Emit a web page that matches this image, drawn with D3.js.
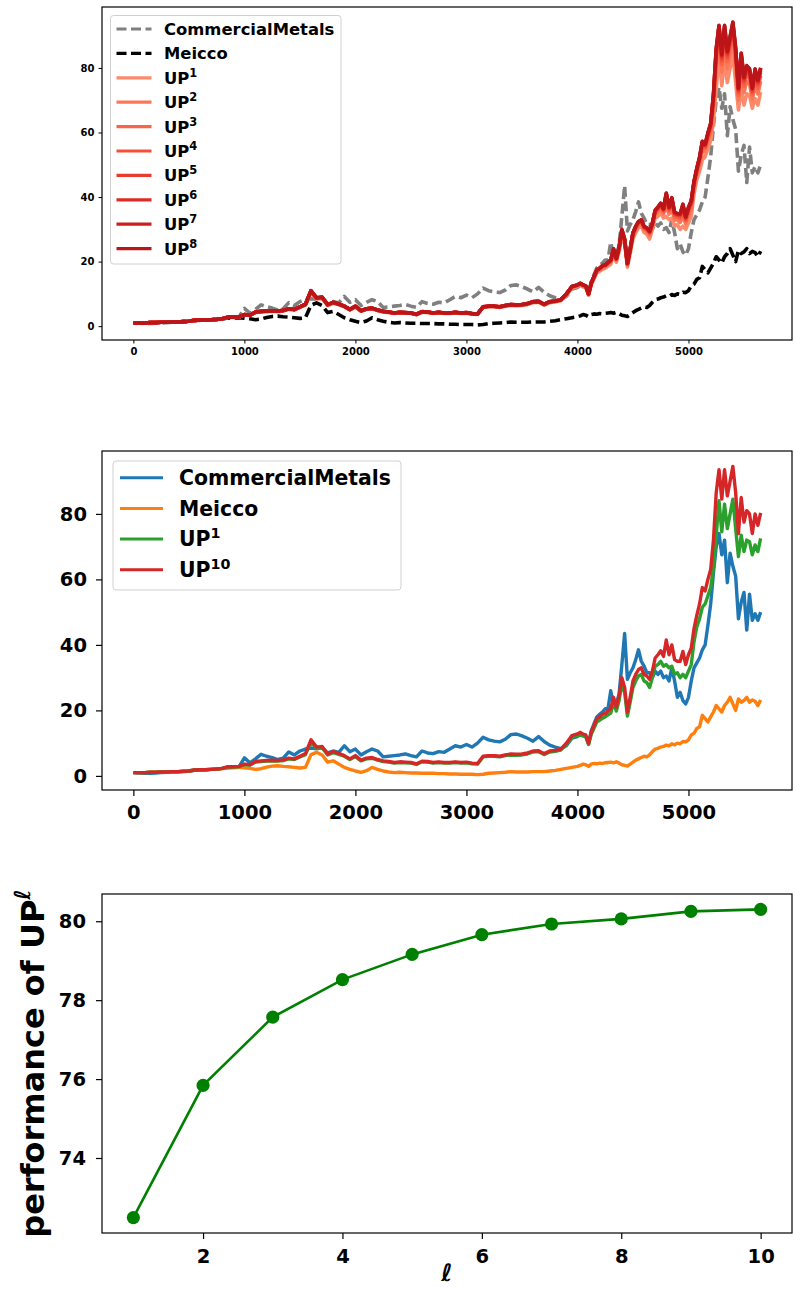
<!DOCTYPE html>
<html><head><meta charset="utf-8">
<script src="https://cdn.jsdelivr.net/npm/d3@7"></script>
<style>
body{margin:0;background:#fff}
svg text{font-family:"DejaVu Sans",sans-serif;font-weight:bold}
</style>
</head><body>
<svg id="chart" width="795" height="1289"></svg>
<script>
// ---------------- data ----------------
// trading-day index: every 50 days up to 4000, then every 25 days
const days = d3.range(0, 4000, 50).concat(d3.range(4000, 5651, 25));

const commercialMetals = [
1.0,0.9,0.8,0.8,0.9,1.0,1.1,1.2,1.2,1.3,
1.4,1.7,1.8,1.9,2.0,2.1,2.3,2.5,2.6,2.7,
5.5,4.0,5.2,6.6,6.0,5.6,5.0,5.4,7.3,6.4,
7.6,8.2,8.5,8.3,8.6,7.0,7.6,7.2,9.2,7.4,
8.2,6.4,7.4,8.2,7.6,5.8,6.0,6.2,6.4,6.7,
6.2,5.8,7.6,7.0,6.8,7.4,7.2,8.2,9.2,8.8,
9.6,8.8,10.0,11.8,11.0,10.6,10.4,11.2,12.6,12.8,
12.2,11.5,10.6,12.0,10.5,9.4,8.8,8.3,9.2,11.5,
12.0,12.8,12.3,12.0,9.8,13.8,16.0,18.0,18.8,19.5,
20.5,20.5,26.0,21.5,22.0,25.0,34.0,43.5,29.5,31.5,
33.0,35.5,38.5,35.0,33.5,31.5,31.5,30.0,32.0,31.0,
32.0,30.0,30.5,29.0,33.0,29.0,24.0,25.5,23.0,22.0,
24.0,29.0,33.0,34.5,36.0,38.5,40.0,46.0,52.5,62.0,
70.0,74.0,67.5,72.0,59.0,68.0,64.0,61.0,48.0,53.0,
56.0,44.5,55.5,47.5,49.5,47.5,50.0];

const meicco = [
1.0,1.0,1.0,1.1,1.1,1.2,1.2,1.3,1.3,1.4,
1.5,1.8,1.9,1.9,2.0,2.1,2.2,2.5,2.5,2.6,
2.5,2.3,2.0,2.2,2.7,3.0,3.1,2.9,2.8,2.6,
2.4,2.6,6.5,7.2,6.4,4.2,4.6,3.6,2.6,2.0,
1.5,1.1,1.6,2.6,2.0,1.5,1.2,1.0,1.1,1.0,
0.9,0.9,0.8,0.8,0.8,0.7,0.7,0.6,0.6,0.5,
0.5,0.5,0.4,0.5,0.8,0.9,1.0,1.1,1.3,1.2,
1.2,1.2,1.3,1.3,1.3,1.5,1.7,2.0,2.3,2.6,
2.9,3.2,3.6,3.4,2.9,3.6,3.8,3.7,3.9,3.8,
4.0,4.1,4.2,4.0,4.3,3.9,3.4,3.2,3.0,3.6,
4.2,4.8,5.2,5.6,6.0,5.8,6.4,7.4,8.2,8.4,
8.8,9.0,9.4,9.2,9.8,9.5,10.0,9.8,10.5,10.4,
11.0,12.5,13.0,14.5,15.0,18.5,17.5,16.5,18.0,19.5,
21.5,20.5,19.5,21.5,22.5,24.0,22.0,20.0,23.5,22.5,
23.0,24.0,22.5,23.2,22.8,21.5,23.2];

const up1 = [
1.0,1.0,1.0,1.1,1.1,1.2,1.2,1.3,1.3,1.4,
1.5,1.8,1.9,1.9,2.0,2.1,2.3,2.7,2.7,2.8,
3.5,3.3,4.2,4.4,4.5,4.6,4.5,4.7,5.2,5.0,
5.8,6.5,10.4,8.4,8.6,6.4,7.1,6.6,6.0,5.0,
5.9,4.6,5.2,5.4,4.8,4.4,4.2,3.9,4.1,4.0,
3.9,3.5,4.3,4.2,3.9,4.1,3.9,3.9,4.1,3.9,
4.0,3.7,3.6,5.8,6.0,6.0,5.8,6.2,6.4,6.3,
6.4,6.7,7.3,7.4,6.5,7.3,7.5,7.9,9.6,11.8,
12.3,12.6,12.2,12.0,9.6,12.8,14.6,16.5,17.0,17.6,
18.0,18.6,19.2,22.5,19.8,23.0,28.0,25.5,18.3,22.5,
27.0,29.0,30.5,31.0,29.0,28.5,27.0,30.0,33.5,34.0,
35.0,33.5,34.0,33.0,33.5,31.0,31.5,30.0,31.0,30.0,
32.0,34.0,41.0,45.5,48.0,51.5,52.5,55.0,57.5,63.5,
73.5,84.0,74.5,83.0,75.5,80.0,84.5,75.5,67.0,73.5,
68.5,72.0,71.5,67.5,70.5,68.5,72.5];

const up10 = [
1.0,1.0,1.0,1.1,1.1,1.2,1.2,1.3,1.3,1.4,
1.5,1.8,1.9,1.9,2.0,2.1,2.3,2.8,2.8,2.9,
3.6,3.4,4.4,4.6,4.7,4.8,4.7,4.9,5.4,5.2,
6.0,6.8,11.0,8.8,9.0,6.7,7.4,6.9,6.2,5.2,
6.2,4.8,5.4,5.6,5.0,4.6,4.4,4.1,4.3,4.2,
4.1,3.7,4.5,4.4,4.1,4.3,4.1,4.1,4.3,4.1,
4.2,3.9,3.8,6.0,6.2,6.2,6.0,6.4,6.7,6.6,
6.7,7.0,7.6,7.7,6.8,7.6,7.8,8.2,10.0,12.3,
12.8,13.3,12.8,12.5,10.0,13.5,15.5,17.5,18.0,18.8,
19.0,19.8,20.5,24.0,21.0,24.5,30.0,27.0,19.5,24.0,
29.0,31.0,32.5,33.0,31.0,30.5,29.5,32.0,36.0,37.0,
38.2,36.5,41.5,37.0,40.0,35.5,35.0,35.0,38.0,34.0,
37.0,39.0,45.0,49.0,52.5,57.5,56.5,60.0,63.0,72.0,
86.5,93.5,84.5,93.5,85.5,90.0,94.5,86.5,74.0,85.0,
77.5,81.0,80.0,74.0,80.0,76.5,80.3];

// final performance of UP^l for l = 1..10
const ellValues = [1,2,3,4,5,6,7,8,9,10];
const upPerformance = [72.49,75.84,77.57,78.52,79.16,79.66,79.93,80.06,80.25,80.30];

// levels shown in the top panel
const topLevels = [1,2,3,4,5,6,7,8];
const xTicksSeries = [0,1000,2000,3000,4000,5000];
const yTicksSeries = [0,20,40,60,80];
const xTicksEll = [2,4,6,8,10];
const yTicksEll = [74,76,78,80];

// top-panel UP^l curves: positioned between UP^1 and UP^10 by their final performance
const wOf = l => (upPerformance[l-1]-upPerformance[0])/(upPerformance[9]-upPerformance[0]);
const topSeries = topLevels.map(l => up1.map((v,i) => v + wOf(l)*(up10[i]-v)));

// ---------------- helpers ----------------
const svg = d3.select("#chart");
const pad = ([a,b]) => [a-0.05*(b-a), b+0.05*(b-a)];

function axes(box, xd, yd, o){
  const x = d3.scaleLinear().domain(xd).range([box.l, box.r]);
  const y = d3.scaleLinear().domain(yd).range([box.b, box.t]);
  const g = svg.append("g");
  const gx = g.append("g").attr("transform",`translate(0,${box.b})`)
    .call(d3.axisBottom(x).tickValues(o.xt).tickSize(o.tl).tickPadding(o.pad).tickFormat(d3.format("d")));
  const gy = g.append("g").attr("transform",`translate(${box.l},0)`)
    .call(d3.axisLeft(y).tickValues(o.yt).tickSize(o.tl).tickPadding(o.pad).tickFormat(d3.format("d")));
  [gx,gy].forEach(a=>{
    a.select(".domain").remove();
    a.selectAll("line").attr("stroke","#000").attr("stroke-width",o.tw);
    a.selectAll("text").attr("font-size",o.fs).attr("font-family","DejaVu Sans").attr("font-weight","bold").attr("fill","#000");
  });
  return {x,y,g};
}
function frame(box){
  svg.append("rect").attr("x",box.l).attr("y",box.t).attr("width",box.r-box.l).attr("height",box.b-box.t)
    .attr("fill","none").attr("stroke","#000").attr("stroke-width",1.2);
}
function legend(o){
  const g = svg.append("g");
  g.append("rect").attr("x",o.x).attr("y",o.y).attr("width",o.w).attr("height",o.h).attr("rx",3)
    .attr("fill","#fff").attr("fill-opacity",0.8).attr("stroke","#d0d0d0").attr("stroke-width",1);
  o.items.forEach((it,i)=>{
    const cy = o.row0 + i*o.step;
    g.append("line").attr("x1",o.hx0).attr("x2",o.hx1).attr("y1",cy).attr("y2",cy)
      .attr("stroke",it.color).attr("stroke-width",o.lw).attr("stroke-dasharray",it.dash||null);
    const t = g.append("text").attr("x",o.tx).attr("y",cy+0.36*o.fs).attr("font-size",o.fs).attr("fill","#000");
    t.append("tspan").text(it.label);
    if(it.sup){ t.append("tspan").attr("dy",-0.42*o.fs).attr("font-size",o.fs*0.7).text(it.sup); }
  });
}
function path(sc, vals, color, lw, dash){
  const line = d3.line().x((d,i)=>sc.x(days[i])).y(d=>sc.y(d));
  svg.append("path").datum(vals).attr("d",line).attr("fill","none")
    .attr("stroke",color).attr("stroke-width",lw).attr("stroke-linejoin","round")
    .attr("stroke-dasharray",dash||null);
}

const xExt = pad(d3.extent(days));

// ---------------- top panel ----------------
const box1 = {l:102, r:792, t:7, b:340};
const all1 = commercialMetals.concat(meicco, ...topSeries);
const s1 = axes(box1, xExt, pad(d3.extent(all1)), {xt:xTicksSeries, yt:yTicksSeries, tl:3.5, pad:4, fs:10, tw:1});
const redCols = topLevels.map((l,i)=>d3.interpolateReds(0.4+0.4*i/7));
path(s1, commercialMetals, "#808080", 3.6, "10,4.5");
path(s1, meicco, "#000", 3.6, "10,4.5");
topSeries.forEach((s,i)=>path(s1, s, redCols[i], 3.6));
frame(box1);
legend({x:110.5, y:15.5, w:230.5, h:248.5, row0:29, step:24.4, hx0:116.5, hx1:151.5, tx:164, fs:16.4, lw:3.2,
  items:[{label:"CommercialMetals", color:"#808080", dash:"10,4.5"},{label:"Meicco", color:"#000", dash:"10,4.5"}]
    .concat(topLevels.map((l,i)=>({label:"UP", sup:String(l), color:redCols[i]})))});

// ---------------- middle panel ----------------
const box2 = {l:102, r:792, t:451, b:790};
const all2 = commercialMetals.concat(meicco, up1, up10);
const s2 = axes(box2, xExt, pad(d3.extent(all2)), {xt:xTicksSeries, yt:yTicksSeries, tl:6, pad:9, fs:19.5, tw:1.2});
path(s2, commercialMetals, "#1f77b4", 3.4);
path(s2, meicco, "#ff7f0e", 3.4);
path(s2, up1, "#2ca02c", 3.4);
path(s2, up10, "#d62728", 3.4);
frame(box2);
legend({x:113, y:461, w:288, h:129, row0:477.7, step:30.7, hx0:120, hx1:163, tx:179, fs:20.4, lw:3,
  items:[{label:"CommercialMetals", color:"#1f77b4"},{label:"Meicco", color:"#ff7f0e"},
         {label:"UP", sup:"1", color:"#2ca02c"},{label:"UP", sup:"10", color:"#d62728"}]});

// ---------------- bottom panel ----------------
const box3 = {l:102, r:792, t:894, b:1233};
const s3 = axes(box3, pad(d3.extent(ellValues)), pad(d3.extent(upPerformance)), {xt:xTicksEll, yt:yTicksEll, tl:6, pad:10, fs:19.5, tw:1.2});
const pts = ellValues.map((l,i)=>[l, upPerformance[i]]);
svg.append("path").datum(pts).attr("d", d3.line().x(d=>s3.x(d[0])).y(d=>s3.y(d[1])))
  .attr("fill","none").attr("stroke","#008000").attr("stroke-width",2.6);
svg.append("g").selectAll("circle").data(pts).join("circle")
  .attr("cx",d=>s3.x(d[0])).attr("cy",d=>s3.y(d[1])).attr("r",6.6).attr("fill","#008000");
frame(box3);
const yl = svg.append("text").attr("transform",`translate(44,${(box3.t+box3.b)/2}) rotate(-90)`)
  .attr("text-anchor","middle").attr("font-size",32).attr("fill","#000");
yl.append("tspan").text("performance of UP");
yl.append("tspan").attr("dy",-14).attr("font-size",22).attr("font-style","italic").text("ℓ");
svg.append("text").attr("x",(box3.l+box3.r)/2).attr("y",1281).attr("text-anchor","middle")
  .attr("font-size",24).attr("font-style","italic").attr("fill","#000").text("ℓ");
</script>
</body></html>
